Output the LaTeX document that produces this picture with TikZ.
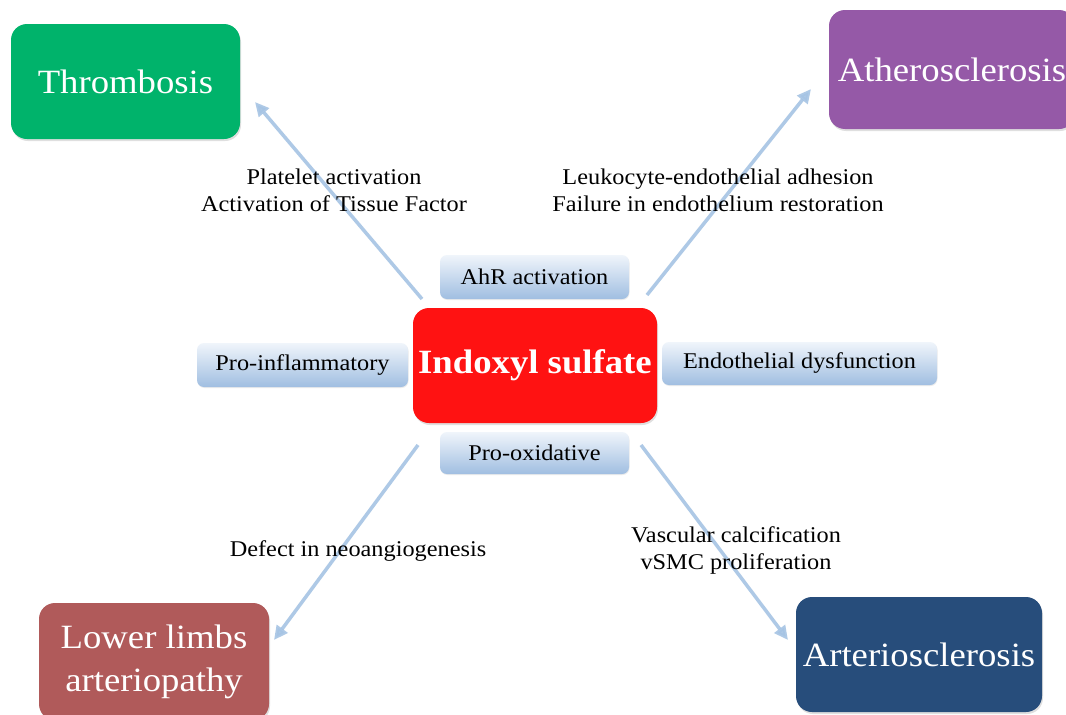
\documentclass[tikz,border=0pt]{standalone}
\usepackage{fontspec}
\setmainfont{Liberation Serif}[FakeStretch=1.08]
\usetikzlibrary{arrows.meta,shadows}
\definecolor{cgreen}{RGB}{0,179,107}
\definecolor{cpurple}{RGB}{149,89,167}
\definecolor{cred}{RGB}{255,18,18}
\definecolor{cbrown}{RGB}{176,90,90}
\definecolor{cnavy}{RGB}{39,77,123}
\definecolor{carrow}{RGB}{166,196,228}
\definecolor{ctop}{RGB}{240,245,251}
\definecolor{cbot}{RGB}{160,190,225}
\tikzset{
  bigbox/.style={rounded corners=16pt, minimum width=#1, text=white, align=center,
    font=\fontsize{34}{42}\selectfont, inner sep=0pt,
    drop shadow={opacity=0.25, shadow xshift=1pt, shadow yshift=-2pt}},
  smallbox/.style={rounded corners=7pt, top color=ctop, bottom color=cbot, draw=none,
    font=\fontsize{22.5}{24}\selectfont, inner sep=0pt, minimum height=43pt,
    drop shadow={opacity=0.15, shadow xshift=0.5pt, shadow yshift=-1pt}},
  lbl/.style={align=center, font=\fontsize{22.5}{27}\selectfont, inner sep=0pt},
  conn/.style={carrow, line width=3.5pt, -{Triangle[length=14pt,width=13pt]}, opacity=0.9},
}
\begin{document}
\begin{tikzpicture}[x=1pt,y=-1pt]
\useasboundingbox (0,0) rectangle (1066,715);
\clip (0,0) rectangle (1066,715);
\fill[white] (0,0) rectangle (1066,715);
% outer boxes
\node[bigbox=229pt, fill=cgreen, minimum height=115pt] (thr) at (125.5,81.5) {Thrombosis};
\node[bigbox=246pt, fill=cpurple, minimum height=119pt] (ath) at (952,69.5) {Atherosclerosis};
\node[bigbox=230pt, fill=cbrown, minimum height=117pt, font=\fontsize{34}{43}\selectfont] (low) at (154,661.5) {Lower limbs\\arteriopathy};
\node[bigbox=246pt, fill=cnavy, minimum height=115pt] (art) at (919,654.5) {Arteriosclerosis};
% centre
\node[bigbox=244pt, fill=cred, minimum height=115pt, font=\bfseries\fontsize{34}{42}\selectfont] (ind) at (535,365.5) {Indoxyl sulfate};
% small boxes
\node[smallbox, minimum width=189pt, minimum height=44pt] (ahr) at (534.5,277) {AhR activation};
\node[smallbox, minimum width=211pt, minimum height=44pt] (pin) at (302.5,365) {Pro-inflammatory};
\node[smallbox, minimum width=275pt, minimum height=43pt] (end) at (799.5,363.5) {Endothelial dysfunction};
\node[smallbox, minimum width=189pt, minimum height=42pt] (pox) at (534.5,453) {Pro-oxidative};
% connector end points
\coordinate (s1) at (422,299);
\coordinate (e1) at (255,102);
\coordinate (s2) at (647,295);
\coordinate (e2) at (811,89);
\coordinate (s3) at (418,445);
\coordinate (e3) at (274,640);
\coordinate (s4) at (641,445);
\coordinate (e4) at (788,640);
\draw[conn] (s1) -- (e1);
\draw[conn] (s2) -- (e2);
\draw[conn] (s3) -- (e3);
\draw[conn] (s4) -- (e4);
% labels
\node[lbl] (l1) at (334,190) {Platelet activation\\Activation of Tissue Factor};
\node[lbl] (l2) at (718,190) {Leukocyte-endothelial adhesion\\Failure in endothelium restoration};
\node[lbl, anchor=base] (l3) at (358,556) {Defect in neoangiogenesis};
\node[lbl] (l4) at (736,550) {Vascular calcification\\vSMC proliferation};
\end{tikzpicture}
\end{document}
